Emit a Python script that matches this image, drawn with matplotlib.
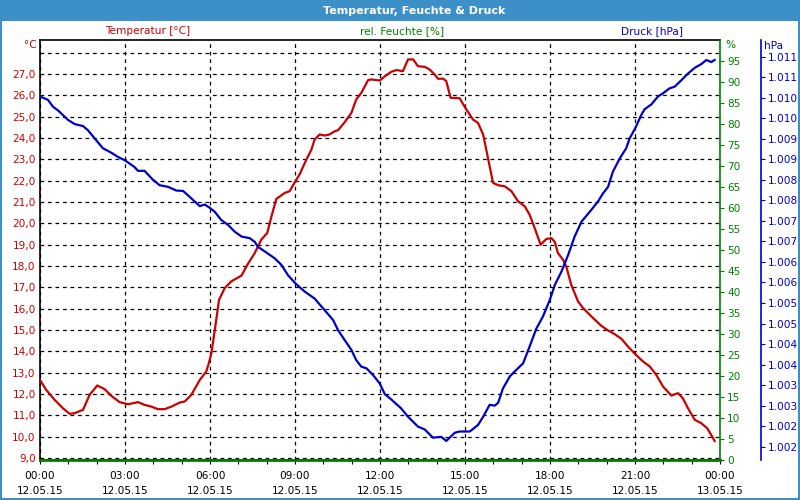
import matplotlib
matplotlib.use("Agg")
import matplotlib.pyplot as plt
from matplotlib.patches import Rectangle

# ---------------- data ----------------
temp_hours = [0.00, 0.22, 0.52, 0.81, 1.05, 1.22, 1.52, 1.75, 2.02, 2.28, 2.52, 2.81, 3.11, 3.46, 3.69,
              3.93, 4.16, 4.40, 4.64, 4.93, 5.11, 5.34, 5.64, 5.87, 5.95, 6.05, 6.17, 6.32, 6.52, 6.75,
              6.93, 7.11, 7.34, 7.58, 7.81, 8.02, 8.17, 8.34, 8.64, 8.81, 9.01, 9.16, 9.40, 9.58, 9.69,
              9.87, 10.05, 10.22, 10.40, 10.52, 10.75, 10.99, 11.16, 11.34, 11.58, 11.69, 11.99, 12.17,
              12.40, 12.58, 12.81, 12.99, 13.17, 13.34, 13.58, 13.75, 13.93, 14.05, 14.22, 14.34, 14.49,
              14.81, 15.01, 15.28, 15.46, 15.64, 15.81, 15.99, 16.17, 16.40, 16.64, 16.87, 17.11, 17.28,
              17.46, 17.67, 17.87, 18.05, 18.17, 18.28, 18.46, 18.58, 18.75, 18.99, 19.17, 19.46, 19.81,
              20.05, 20.28, 20.52, 20.75, 21.01, 21.28, 21.52, 21.75, 21.99, 22.28, 22.52, 22.69, 22.87,
              23.11, 23.34, 23.55, 23.69, 23.81]
temp_values = [12.66, 12.19, 11.72, 11.33, 11.07, 11.10, 11.26, 11.96, 12.40, 12.23, 11.91, 11.62, 11.52,
               11.62, 11.49, 11.41, 11.29, 11.29, 11.41, 11.60, 11.65, 11.96, 12.66, 13.06, 13.40, 13.92,
               15.01, 16.42, 16.97, 17.28, 17.42, 17.55, 18.11, 18.61, 19.24, 19.55, 20.33, 21.15, 21.43,
               21.51, 21.97, 22.29, 22.99, 23.46, 23.93, 24.17, 24.12, 24.17, 24.32, 24.37, 24.74, 25.18,
               25.81, 26.12, 26.72, 26.75, 26.70, 26.90, 27.11, 27.19, 27.14, 27.69, 27.69, 27.37, 27.34,
               27.22, 26.98, 26.78, 26.79, 26.67, 25.89, 25.87, 25.42, 24.87, 24.71, 24.17, 23.07, 21.90,
               21.79, 21.74, 21.51, 21.04, 20.80, 20.41, 19.78, 19.00, 19.27, 19.31, 19.13, 18.61, 18.30,
               17.95, 17.12, 16.34, 16.03, 15.64, 15.20, 14.98, 14.81, 14.59, 14.23, 13.87, 13.53, 13.29,
               12.90, 12.35, 11.93, 12.04, 11.80, 11.33, 10.79, 10.63, 10.39, 10.08, 9.80]

press_hours = [0.00, 0.28, 0.46, 0.64, 0.99, 1.22, 1.52, 1.69, 1.93, 2.22, 2.52, 2.75, 3.01, 3.34, 3.46,
               3.69, 3.99, 4.22, 4.52, 4.81, 5.05, 5.34, 5.64, 5.81, 5.99, 6.17, 6.40, 6.64, 6.87, 7.11,
               7.40, 7.58, 7.69, 7.99, 8.28, 8.52, 8.75, 9.01, 9.34, 9.69, 9.99, 10.34, 10.52, 10.75,
               10.99, 11.16, 11.34, 11.52, 11.75, 11.99, 12.17, 12.40, 12.75, 12.99, 13.34, 13.58, 13.87,
               14.16, 14.34, 14.64, 14.81, 15.17, 15.46, 15.64, 15.87, 16.05, 16.17, 16.34, 16.58, 16.75,
               17.05, 17.28, 17.52, 17.75, 17.99, 18.17, 18.40, 18.64, 18.87, 19.11, 19.46, 19.69, 19.87,
               20.05, 20.22, 20.46, 20.69, 20.81, 21.01, 21.22, 21.34, 21.58, 21.81, 21.99, 22.22, 22.40,
               22.64, 22.87, 23.11, 23.34, 23.52, 23.69, 23.81]
press_values = [1010.03, 1009.95, 1009.78, 1009.69, 1009.46, 1009.36, 1009.31, 1009.21, 1009.01, 1008.77,
                1008.66, 1008.56, 1008.47, 1008.31, 1008.22, 1008.22, 1008.00, 1007.87, 1007.83, 1007.74,
                1007.73, 1007.55, 1007.36, 1007.40, 1007.32, 1007.22, 1007.02, 1006.90, 1006.74, 1006.62,
                1006.58, 1006.49, 1006.37, 1006.23, 1006.09, 1005.93, 1005.68, 1005.48, 1005.28, 1005.11,
                1004.87, 1004.59, 1004.34, 1004.10, 1003.86, 1003.61, 1003.45, 1003.41, 1003.25, 1003.04,
                1002.78, 1002.65, 1002.43, 1002.23, 1001.99, 1001.92, 1001.72, 1001.74, 1001.64, 1001.84,
                1001.87, 1001.87, 1002.03, 1002.23, 1002.52, 1002.50, 1002.57, 1002.92, 1003.21, 1003.33,
                1003.53, 1003.94, 1004.38, 1004.67, 1005.07, 1005.44, 1005.76, 1006.17, 1006.62, 1006.98,
                1007.27, 1007.47, 1007.67, 1007.83, 1008.20, 1008.52, 1008.77, 1009.01, 1009.26, 1009.58,
                1009.72, 1009.84, 1010.03, 1010.11, 1010.23, 1010.27, 1010.43, 1010.59, 1010.73, 1010.82,
                1010.92, 1010.87, 1010.92]

hum_hours = [0.0, 24.0]
hum_values = [0.0, 0.0]

x_tick_hours = [0, 3, 6, 9, 12, 15, 18, 21, 24]
x_tick_times = ["00:00", "03:00", "06:00", "09:00", "12:00", "15:00", "18:00", "21:00", "00:00"]
x_tick_dates = ["12.05.15"] * 8 + ["13.05.15"]
temp_ticks = list(range(9, 29))
hum_ticks = list(range(0, 100, 5))
press_ticks = [1011.0 - 0.5 * i for i in range(20)]
press_tick_labels = ["1.011", "1.011", "1.010", "1.010", "1.009", "1.009", "1.008", "1.008", "1.007",
                     "1.007", "1.006", "1.006", "1.005", "1.005", "1.004", "1.004", "1.003", "1.003",
                     "1.002", "1.002"]

title = "Temperatur, Feuchte & Druck"
series_names = ["Temperatur [°C]", "rel. Feuchte [%]", "Druck [hPa]"]

# ---------------- style ----------------
RED = "#cc0000"
GREEN = "#008000"
BLUE = "#0000cc"
BAR = "#3d8fc8"
FS = 7.6
plt.rcParams["font.family"] = ["DejaVu Sans"]

W, H = 800, 500
fig = plt.figure(figsize=(8, 5), dpi=100)
fig.patch.set_facecolor("white")

def fx(px):
    return px / W

def fy(py):
    return 1 - py / H

ax = fig.add_axes([fx(40), fy(460), (720 - 40) / W, (460 - 40) / H])
ax.set_xlim(0, 24)
ax.set_ylim(8.906, 28.60)

dash = (0, (3, 3))
ax.set_yticks(temp_ticks)
ax.set_yticklabels([("%.1f" % v).replace(".", ",") if v < 28 else "" for v in temp_ticks],
                   color=RED, fontsize=FS)
ax.tick_params(axis="y", length=0, pad=3)
ax.set_xticks(x_tick_hours)
ax.set_xticklabels([t + "\n" + d for t, d in zip(x_tick_times, x_tick_dates)],
                   fontsize=FS, linespacing=1.6)
ax.set_xticks(range(0, 25), minor=True)
ax.tick_params(axis="x", which="both", direction="out", length=3, width=0.8, pad=5, color="black")
ax.grid(axis="y", color="black", linestyle=dash, linewidth=0.9)
ax.grid(axis="x", which="major", color="black", linestyle=dash, linewidth=0.9)
for s in ["left", "top", "bottom"]:
    ax.spines[s].set_color("black")
    ax.spines[s].set_linewidth(1.2)
ax.spines["right"].set_visible(False)
ax.plot(temp_hours, temp_values, color=RED, lw=1.6, zorder=3)

# humidity axis
axh = ax.twinx()
axh.set_ylim(0, 100)
axh.set_yticks(hum_ticks)
axh.set_yticklabels([str(v) for v in hum_ticks], color=GREEN, fontsize=FS)
axh.tick_params(axis="y", direction="out", length=3, width=0.8, color=GREEN, pad=2)
for s in ["left", "top", "bottom"]:
    axh.spines[s].set_visible(False)
axh.spines["right"].set_color(GREEN)
axh.spines["right"].set_linewidth(1.2)
axh.plot(hum_hours, hum_values, color=GREEN, lw=2.0, zorder=3, clip_on=False)

# pressure axis
axp = ax.twinx()
axp.set_ylim(1001.176, 1011.407)
axp.spines["right"].set_position(("axes", (761 - 40) / 680))
for s in ["left", "top", "bottom"]:
    axp.spines[s].set_visible(False)
axp.spines["right"].set_color(BLUE)
axp.spines["right"].set_linewidth(1.2)
axp.set_yticks(press_ticks)
axp.set_yticklabels(press_tick_labels, color=BLUE, fontsize=FS)
axp.tick_params(axis="y", direction="out", length=3, width=0.8, color=BLUE, pad=2)
axp.plot(press_hours, press_values, color=BLUE, lw=1.6, zorder=3)

# header bar and border
fig.patches.append(Rectangle((0, fy(21)), 1, 21 / H, transform=fig.transFigure,
                             facecolor=BAR, edgecolor="none", zorder=0))
fig.patches.append(Rectangle((0.001, 0.002), 0.998, 0.996, transform=fig.transFigure,
                             fill=False, edgecolor=BAR, linewidth=1.5, zorder=5))
fig.text(fx(414), fy(10.5), title, color="white", fontsize=8, fontweight="bold",
         ha="center", va="center")

# series labels
fig.text(fx(148), fy(31), series_names[0], color=RED, fontsize=FS, ha="center", va="center")
fig.text(fx(402), fy(31), series_names[1], color=GREEN, fontsize=FS, ha="center", va="center")
fig.text(fx(652), fy(31), series_names[2], color=BLUE, fontsize=FS, ha="center", va="center")

# unit labels
fig.text(fx(37), fy(45), "°C", color=RED, fontsize=FS, ha="right", va="center")
fig.text(fx(725), fy(45), "%", color=GREEN, fontsize=FS, ha="left", va="center")
fig.text(fx(764), fy(46), "hPa", color=BLUE, fontsize=FS, ha="left", va="center")

fig.savefig("out.png", dpi=100, facecolor="white")
